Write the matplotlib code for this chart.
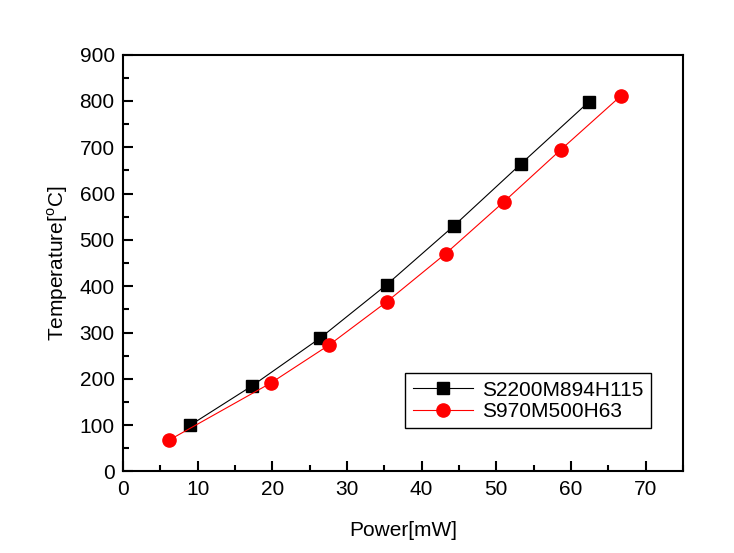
import matplotlib
matplotlib.use('Agg')
import matplotlib.pyplot as plt

plt.rcParams['font.family'] = ['Liberation Sans', 'DejaVu Sans']
plt.rcParams['mathtext.fontset'] = 'custom'
plt.rcParams['mathtext.rm'] = 'Liberation Sans'

# данные
power_a = [9.0, 17.3, 26.4, 35.3, 44.3, 53.3, 62.4]
temp_a = [100, 185, 288, 403, 530, 664, 798]
power_b = [6.2, 19.8, 27.6, 35.3, 43.2, 51.0, 58.6, 66.7]
temp_b = [68, 191, 273, 366, 470, 582, 694, 811]
label_a = 'S2200M894H115'
label_b = 'S970M500H63'

fig = plt.figure(figsize=(7.34, 5.53), dpi=100)
ax = fig.add_axes([0.1676, 0.1474, 0.7629, 0.754])

ax.plot(power_a, temp_a, color='black', lw=0.8, marker='s', ms=8, label=label_a)
ax.plot(power_b, temp_b, color='red', lw=0.8, marker='o', ms=9.5, label=label_b)

ax.set_xlim(0, 75)
ax.set_ylim(0, 900)
ax.set_xticks(range(0, 71, 10))
ax.set_xticks(range(5, 76, 10), minor=True)
ax.set_yticks(range(0, 901, 100))
ax.set_yticks(range(50, 900, 100), minor=True)
ax.tick_params(which='both', direction='in', width=1.5, labelsize=15, top=False, right=False, pad=6)
ax.tick_params(which='major', length=7)
ax.tick_params(which='minor', length=4)
for sp in ax.spines.values():
    sp.set_linewidth(1.5)

ax.set_xlabel('Power[mW]', fontsize=15, labelpad=16)
ax.set_ylabel('Temperature[$^{\\mathrm{o}}$C]', fontsize=15, labelpad=7)

leg = ax.legend(loc='lower right', bbox_to_anchor=(0.943, 0.104), fontsize=15,
                frameon=True, fancybox=False, edgecolor='black', framealpha=1,
                handlelength=2.9, borderpad=0.35, labelspacing=0.1, handletextpad=0.45,
                borderaxespad=0)
leg.get_frame().set_linewidth(1.0)

fig.savefig('out.png', dpi=100)
